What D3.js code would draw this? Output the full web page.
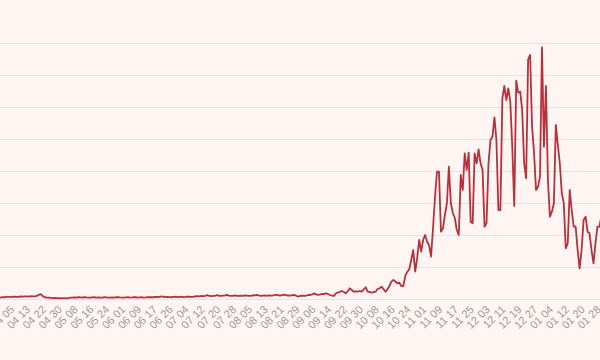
<!DOCTYPE html>
<html>
<head>
<meta charset="utf-8">
<script src="https://cdn.jsdelivr.net/npm/d3@7"></script>
<style>
	body { margin: 0; background: #fff5f3; }
	svg { display: block; }
</style>
</head>
<body>
<script>
var firstDay = "2021-03-28";
var lastDay = "2022-01-30";
var missingDays = ["2021-04-18", "2021-06-20"];
var gridValues = [0, 1000, 2000, 3000, 4000, 5000, 6000, 7000, 8000];
var labelEvery = 8;

// daily new cases
var cases = [
	40, 35, 50, 60, 55, 70, 65, 60, 75, 70,
	65, 70, 80, 75, 85, 80, 75, 90, 85, 80,
	95, 130, 150, 90, 55, 45, 40, 35, 30, 35,
	25, 30, 20, 25, 30, 20, 30, 40, 45, 50,
	40, 55, 50, 45, 60, 50, 45, 40, 50, 55,
	45, 50, 40, 45, 55, 50, 45, 40, 50, 45,
	55, 60, 50, 45, 40, 50, 55, 45, 50, 60,
	55, 45, 50, 55, 45, 50, 60, 55, 60, 55,
	65, 60, 70, 85, 70, 60, 65, 60, 55, 65,
	70, 60, 65, 70, 60, 65, 75, 70, 65, 70,
	80, 90, 85, 95, 90, 100, 120, 95, 90, 100,
	95, 125, 100, 95, 105, 110, 130, 105, 95, 100,
	110, 100, 95, 105, 100, 110, 105, 100, 95, 110,
	115, 130, 110, 100, 105, 110, 100, 115, 105, 110,
	120, 135, 115, 110, 120, 140, 115, 110, 105, 120,
	130, 94, 78, 94, 109, 94, 109, 125, 125, 141,
	178, 141, 125, 141, 156, 156, 178, 156, 125, 109,
	94, 178, 203, 219, 250, 219, 178, 250, 334, 281,
	228, 234, 228, 250, 228, 297, 366, 228, 219, 197,
	219, 228, 313, 334, 384, 313, 228, 303, 406, 541,
	594, 547, 491, 509, 406, 406, 719, 853, 928, 1219,
	1531, 853, 1281, 1844, 1478, 1844, 2000, 1791, 1688, 1322,
	2219, 3197, 3978, 3978, 2103, 2209, 2625, 2991, 4134, 2991,
	2688, 2531, 2156, 2000, 3875, 3406, 4553, 4031, 4572, 2416,
	2366, 4553, 4241, 4678, 4241, 4031, 2259, 2366, 4241, 4969,
	5072, 5678, 4969, 2781, 2781, 6272, 6656, 6219, 6584, 6166,
	4759, 2906, 6822, 6447, 6478, 5906, 4241, 3772, 7491, 7625,
	5384, 4553, 3406, 3509, 3822, 7866, 4759, 6656, 3719, 2572,
	2728, 2991, 5438, 4813, 4241, 3303, 2991, 1584, 1741, 3406,
	2781, 2259, 2259, 1531, 959, 1531, 2469, 2572, 2103, 2053,
	1531, 1116, 1741, 2259, 2259, 2600, 2450
];

var parseDay = d3.utcParse("%Y-%m-%d");
var fmtDay = d3.utcFormat("%Y-%m-%d");
var fmtLabel = d3.utcFormat("%m %d");

var days = d3.utcDay.range(parseDay(firstDay), d3.utcDay.offset(parseDay(lastDay), 1))
				.filter(d => missingDays.indexOf(fmtDay(d)) < 0);
var categories = days.map(d => fmtLabel(d));

var width = 600, height = 360;
var svg = d3.select('body').append('svg')
			.attr('width', width)
			.attr('height', height);

svg.append('rect')
	.attr('width', width)
	.attr('height', height)
	.attr('fill', '#fff5f3');

var x = d3.scalePoint()
			.domain(d3.range(categories.length))
			.range([-2.8, 603.4]);
var y = d3.scaleLinear()
			.domain([0, 8000])
			.range([299, 43]);

// horizontal grid
var grid = svg.append('g')
			.call(d3.axisLeft(y).tickValues(gridValues).tickSize(-width).tickFormat(''));
grid.select('.domain').remove();
grid.selectAll('line')
	.attr('stroke', '#ecdfdf')
	.attr('stroke-width', 1.2);

// rotated date labels
svg.append('g')
	.selectAll('text')
	.data(d3.range(0, categories.length, labelEvery))
	.enter().append('text')
		.attr('transform', i => 'translate(' + x(i) + ',308) rotate(-45)')
		.attr('text-anchor', 'end')
		.attr('dominant-baseline', 'middle')
		.attr('font-family', 'Liberation Sans, Arial, sans-serif')
		.attr('font-size', 11)
		.attr('fill', '#9a9a9a')
		.text(i => categories[i]);

var line = d3.line()
			.x((d, i) => x(i))
			.y(d => y(d));

svg.append('path')
	.datum(cases)
	.attr('d', line)
	.attr('fill', 'none')
	.attr('stroke', '#b7303c')
	.attr('stroke-width', 1.8)
	.attr('stroke-linejoin', 'round');
</script>
</body>
</html>
